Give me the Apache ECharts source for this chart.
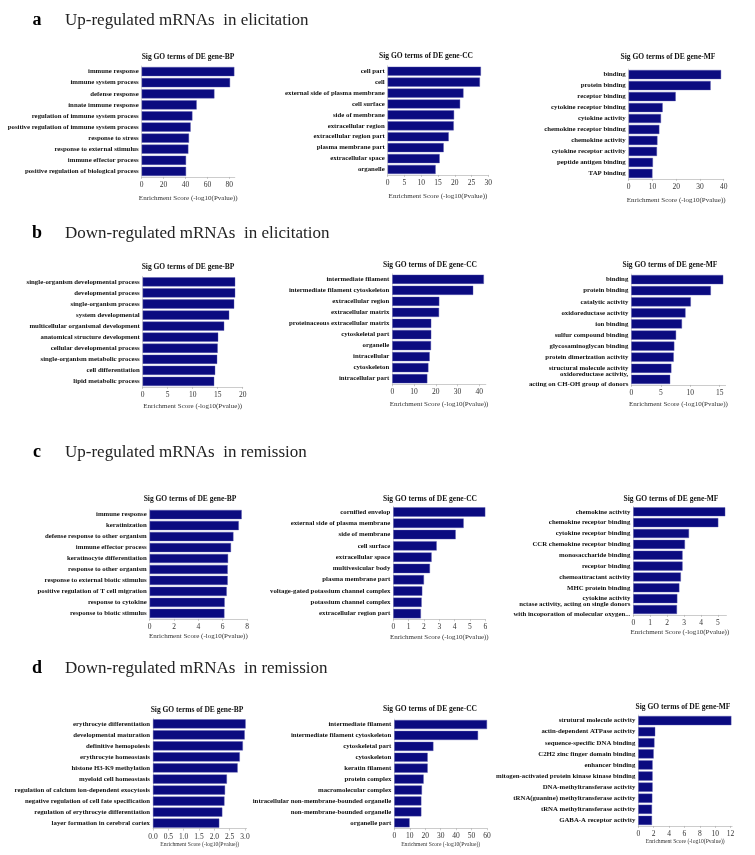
<!DOCTYPE html>
<html>
<head>
<meta charset="utf-8">
<script src="https://cdn.jsdelivr.net/npm/echarts@6/dist/echarts.min.js"></script>
<style>
html,body{margin:0;padding:0;background:#fff;}
#chart{width:755px;height:855px;}
</style>
</head>
<body>
<div id="chart"></div>
<script>
// ---------- data ----------
const rowTitles = ['Up-regulated mRNAs  in elicitation','Down-regulated mRNAs  in elicitation','Up-regulated mRNAs  in remission','Down-regulated mRNAs  in remission'];
const rowLetters = ['a','b','c','d'];
const panelTitles = ['Sig GO terms of DE gene-BP','Sig GO terms of DE gene-CC','Sig GO terms of DE gene-MF'];
const axisName = 'Enrichment Score (-log10(Pvalue))';

const aBpTerms = ['immune response','immune system process','defense response','innate immune response','regulation of immune system process','positive regulation of immune system process','response to stress','response to external stimulus','immune effector process','positive regulation of biological process'];
const aBpValues = [84.6,80.7,66.4,50.2,46.3,44.7,43.2,42.6,40.5,40.5];
const aCcTerms = ['cell part','cell','external side of plasma membrane','cell surface','side of membrane','extracellular region','extracellular region part','plasma membrane part','extracellular space','organelle'];
const aCcValues = [27.8,27.5,22.6,21.6,19.8,19.7,18.2,16.7,15.5,14.3];
const aMfTerms = ['binding','protein binding','receptor binding','cytokine receptor binding','cytokine activity','chemokine receptor binding','chemokine activity','cytokine receptor activity','peptide antigen binding','TAP binding'];
const aMfValues = [38.9,34.5,19.8,14.3,13.6,12.9,12.1,11.9,10.2,10.0];

const bBpTerms = ['single-organism developmental process','developmental process','single-organism process','system developmental','multicellular organismal development','anatomical structure development','cellular developmental process','single-organism metabolic process','cell differentiation','lipid metabolic process'];
const bBpValues = [18.5,18.5,18.3,17.3,16.3,15.1,15.0,14.9,14.5,14.3];
const bCcTerms = ['intermediate filament','intermediate filament cytoskeleton','extracellular region','extracellular matrix','proteinaceous extracellular matrix','cytoskeletal part','organelle','intracellular','cytoskeleton','intracellular part'];
const bCcValues = [42.1,37.2,21.6,21.5,17.9,17.9,17.8,17.2,16.6,16.1];
const bMfTerms = ['binding','protein binding','catalytic activity','oxidoreductase activity','ion binding','sulfur compound binding','glycosaminoglycan binding','protein dimerization activity','structural molecule activity','oxidoreductase activity,\nacting on CH-OH group of donors'];
const bMfValues = [15.6,13.5,10.1,9.2,8.6,7.6,7.3,7.2,6.8,6.6];

const cBpTerms = ['immune response','keratinization','defense response to other organism','immune effector process','keratinocyte differentiation','response to other organism','response to external biotic stimulus','positive regulation of T cell migration','response to cytokine','response to biotic stimulus'];
const cBpValues = [7.56,7.32,6.88,6.68,6.44,6.41,6.41,6.33,6.16,6.14];
const cCcTerms = ['cornified envelop','external side of plasma membrane','side of membrane','cell surface','extracellular space','multivesicular body','plasma membrane part','voltage-gated potassium channel complex','potassium channel complex','extracellular region part'];
const cCcValues = [6.0,4.59,4.07,2.83,2.5,2.39,2.0,1.89,1.85,1.8];
const cMfTerms = ['chemokine activity','chemokine receptor binding','cytokine receptor binding','CCR chemokine receptor binding','monosaccharide binding','receptor binding','chemoattractant activity','MHC protein binding','cytokine activity','nctase activity, acting on single donors\nwith incoporation of molecular oxygen...'];
const cMfValues = [5.43,5.02,3.29,3.05,2.91,2.91,2.81,2.72,2.6,2.58];

const dBpTerms = ['erythrocyte differentiation','developmental maturation','definitive hemopoiesis','erythrocyte homeostasis','histone H3-K9 methylation','myeloid cell homeostasis','regulation of calcium ion-dependent exocytosis','negative regulation of cell fate specification','regulation of erythrocyte differentiation','layer formation in cerebral cortex'];
const dBpValues = [3.02,2.99,2.93,2.83,2.76,2.41,2.35,2.33,2.26,2.16];
const dCcTerms = ['intermediate filament','intermediate filament cytoskeleton','cytoskeletal part','cytoskeleton','keratin filament','protein complex','macromolecular complex','intracellular non-membrane-bounded organelle','non-membrane-bounded organelle','organelle part'];
const dCcValues = [60.0,54.2,25.3,21.6,21.6,19.0,17.9,17.5,17.5,9.9];
const dMfTerms = ['strutural molecule activity','actin-dependent ATPase activity','sequence-specific DNA binding','C2H2 zinc finger domain binding','enhancer binding','mitogen-activated protein kinase kinase binding','DNA-methyltransferase activity','tRNA(guanine) methyltransferase activity','tRNA methyltransferase activity','GABA-A receptor activity'];
const dMfValues = [12.1,2.2,2.1,2.0,1.86,1.86,1.86,1.82,1.78,1.78];

// tick settings per panel (axis max, tick interval, label decimals)
const axisMax = [85,30,40, 20,43,16, 8,6,5.5, 3.05,60,12.2];
const axisInterval = [20,5,10, 5,10,5, 2,1,1, 0.5,10,2];
const axisDecimals = [0,0,0, 0,0,0, 0,0,0, 1,0,0];

const termsList = [aBpTerms,aCcTerms,aMfTerms,bBpTerms,bCcTerms,bMfTerms,cBpTerms,cCcTerms,cMfTerms,dBpTerms,dCcTerms,dMfTerms];
const valuesList = [aBpValues,aCcValues,aMfValues,bBpValues,bCcValues,bMfValues,cBpValues,cCcValues,cMfValues,dBpValues,dCcValues,dMfValues];

// ---------- layout ----------
// [zeroX, barTop, barBottom, pxPerUnit, titleX, titleY]
const layout = [
  [141.7, 67, 176, 1.095, 188, 57],
  [387.7, 66.7, 174, 3.353, 426, 56],
  [628.7, 70, 178, 2.375, 668, 57],
  [142.7, 277.3, 386, 5.0, 188, 267],
  [392.3, 274.7, 383.3, 2.175, 430, 265],
  [631.3, 275, 384, 5.893, 670, 265],
  [149.7, 510, 618, 12.17, 190, 499],
  [393.3, 507.3, 618.3, 15.33, 430, 499],
  [633.3, 507.3, 614, 16.93, 671, 499],
  [153, 719.3, 827.7, 30.67, 197, 710],
  [394.3, 720, 827.3, 1.545, 430, 709],
  [638.3, 716, 825, 7.69, 683, 707]
];
const rowTitleY = [20, 233, 452, 668];
const nameGaps = [18, 16, 14, 13];
const nameSizes = [7, 7, 7, 5.6];

const SERIF = '"Liberation Serif","Times New Roman",serif';
const BAR = '#0b0b80';

const grids = [], xAxes = [], yAxes = [], series = [], graphics = [];

rowTitles.forEach((t, r) => {
  graphics.push({type:'text', x:37, y:rowTitleY[r], style:{text:rowLetters[r], font:'bold 18px '+SERIF, fill:'#000', textAlign:'center', textVerticalAlign:'middle'}});
  graphics.push({type:'text', x:65, y:rowTitleY[r]+1, style:{text:t, font:'17px '+SERIF, fill:'#222', textAlign:'left', textVerticalAlign:'middle'}});
});

layout.forEach((L, i) => {
  const [x0, bt, bb, ppu, tx, ty] = L;
  const row = Math.floor(i / 3);
  const H = (bb - bt) / 0.983;
  const top = bt - 0.0085 * H;
  grids.push({left: x0, top: top, width: axisMax[i] * ppu, height: H, containLabel: false});
  const dec = axisDecimals[i];
  xAxes.push({
    type:'value', gridIndex:i, min:0, max:axisMax[i], interval:axisInterval[i],
    splitLine:{show:false},
    axisLine:{show:true, lineStyle:{color:'#aaa', width:0.6}},
    axisTick:{show:true, length:2, lineStyle:{color:'#aaa', width:0.6}},
    axisLabel:{fontFamily:SERIF, fontSize:7.5, color:'#333', margin:4, showMaxLabel: (axisMax[i] % axisInterval[i] === 0),
      formatter: v => Number(v).toFixed(dec)},
    name: axisName, nameLocation:'middle', nameGap: nameGaps[row],
    nameTextStyle:{fontFamily:SERIF, fontSize:nameSizes[row], color:'#333'}
  });
  yAxes.push({
    type:'category', gridIndex:i, data: termsList[i], inverse:true,
    axisLine:{show:true, lineStyle:{color:'#bbb', width:0.6}},
    axisTick:{show:false},
    axisLabel:{fontFamily:SERIF, fontSize:6.8, fontWeight:'bold', color:'#111', margin:3, lineHeight:10, interval:0}
  });
  series.push({
    type:'bar', xAxisIndex:i, yAxisIndex:i, data: valuesList[i],
    barCategoryGap:'17%',
    itemStyle:{color:BAR, borderColor:'#5a5ab0', borderWidth:0.4},
    silent:true, animation:false
  });
  graphics.push({type:'text', x:tx, y:ty, style:{text:panelTitles[i % 3], font:'bold 7.5px '+SERIF, fill:'#111', textAlign:'center', textVerticalAlign:'middle'}});
});

const chart = echarts.init(document.getElementById('chart'), null, {renderer:'canvas'});
chart.setOption({
  backgroundColor:'#fff',
  animation:false,
  grid: grids,
  xAxis: xAxes,
  yAxis: yAxes,
  series: series,
  graphic: graphics
});
</script>
</body>
</html>
